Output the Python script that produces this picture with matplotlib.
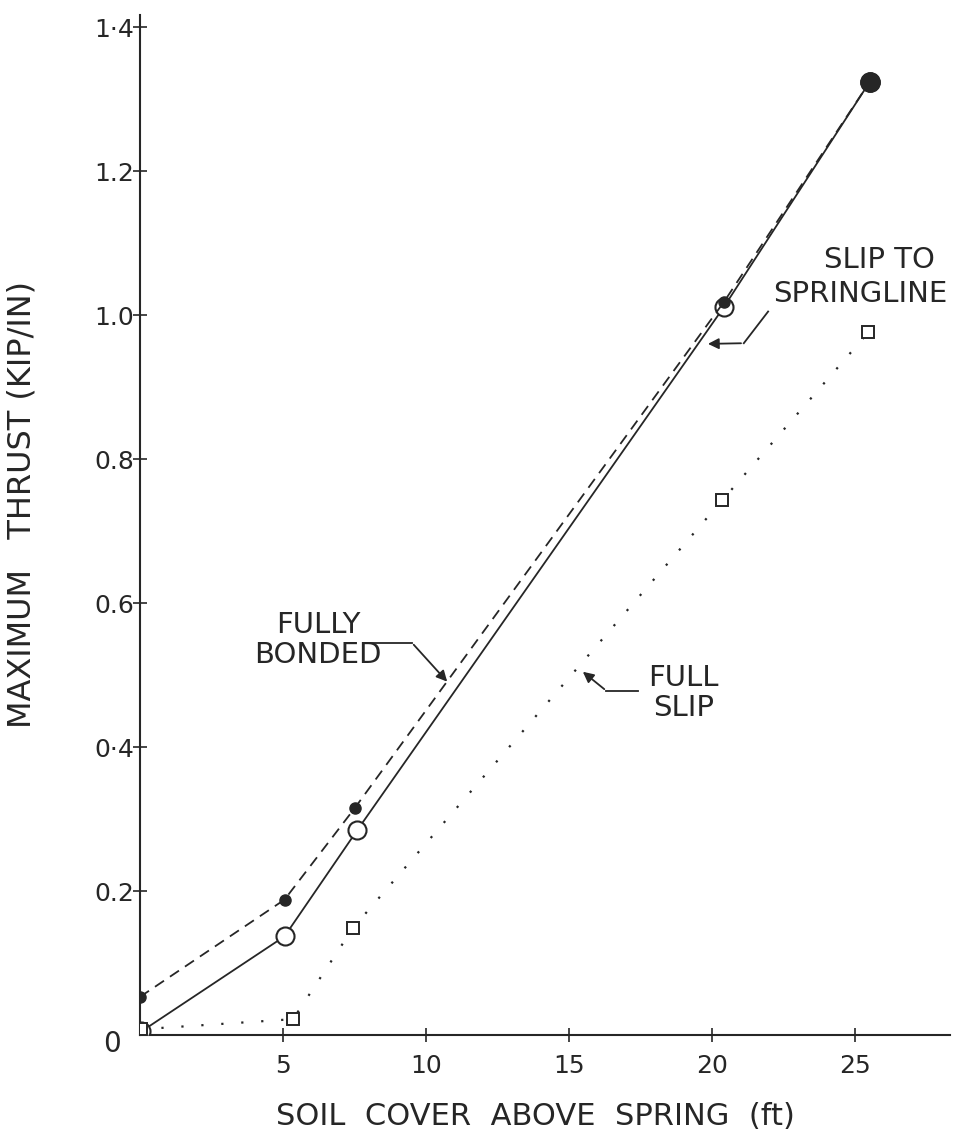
import numpy as np
import matplotlib
matplotlib.use('Agg')
import matplotlib.pyplot as plt

# soil cover (ft) and maximum thrust (kip/in)
bonded_x = [0.0, 5.05, 7.5, 20.4, 25.5]
bonded_y = [0.053, 0.188, 0.315, 1.018, 1.324]

springline_x = [0.05, 5.05, 7.6, 20.4, 25.5]
springline_y = [0.005, 0.137, 0.285, 1.011, 1.324]

fullslip_x = [0.05, 5.35, 7.45, 20.35, 25.45]
fullslip_y = [0.008, 0.022, 0.149, 0.743, 0.976]

x_ticks = [5, 10, 15, 20, 25]
y_ticks = [0.2, 0.4, 0.6, 0.8, 1.0, 1.2, 1.4]
y_ticklabels = ['0.2', '0\u00b74', '0.6', '0.8', '1.0', '1.2', '1\u00b74']

ink = '#262626'
plt.rcParams['font.family'] = ['DejaVu Sans']

fig = plt.figure(figsize=(9.55, 11.41), dpi=100)
ax = fig.add_axes([0.1466, 0.0929, 0.848, 0.894])

ax.plot(bonded_x, bonded_y, color=ink, lw=1.3, linestyle=(0, (6, 4)),
        marker='o', markersize=8, markerfacecolor=ink, markeredgecolor=ink, zorder=4)
ax.plot(springline_x, springline_y, color=ink, lw=1.3, linestyle='-',
        marker='o', markersize=13, markerfacecolor='white', markeredgecolor=ink,
        markeredgewidth=1.5, zorder=3)
ax.plot(fullslip_x, fullslip_y, color=ink, lw=1.6, linestyle=(0, (1, 8)),
        marker='s', markersize=8, markerfacecolor='white', markeredgecolor=ink,
        markeredgewidth=1.4, zorder=3)
# last point drawn as a large filled dot, as in the original
ax.plot(bonded_x[-1:], bonded_y[-1:], 'o', markersize=14, color=ink, zorder=5)

ax.set_xlim(0, 28.3)
ax.set_ylim(0, 1.417)
ax.set_xticks(x_ticks)
ax.set_yticks(y_ticks)
ax.set_yticklabels(y_ticklabels)
for s in ['top', 'right']:
    ax.spines[s].set_visible(False)
for s in ['left', 'bottom']:
    ax.spines[s].set_color(ink)
    ax.spines[s].set_linewidth(1.5)
ax.tick_params(axis='both', direction='inout', length=10, width=1.2, colors=ink,
               labelsize=18, labelcolor=ink)
ax.tick_params(axis='y', pad=-1)
ax.tick_params(axis='x', pad=9)
ax.text(-0.98, -0.012, '0', fontsize=20, color=ink, ha='center', va='center',
        clip_on=False)

ax.set_xlabel('SOIL  COVER  ABOVE  SPRING  (ft)', fontsize=22, color=ink)
ax.xaxis.set_label_coords(0.488, -0.066)
ax.set_ylabel('MAXIMUM   THRUST (KIP/IN)', fontsize=23, color=ink)
ax.yaxis.set_label_coords(-0.126, 0.52)

txt = dict(fontsize=21, color=ink, ha='center', va='center', linespacing=1.1)
ax.text(25.84, 1.076, 'SLIP TO', **txt)
ax.text(25.17, 1.029, 'SPRINGLINE', **txt)
ax.text(6.22, 0.549, 'FULLY\nBONDED', **txt)
ax.text(18.99, 0.475, 'FULL\nSLIP', **txt)

arrow = dict(arrowstyle='-|>', color=ink, lw=1.3, mutation_scale=16)
ax.annotate('', xy=(19.75, 0.96), xytext=(21.1, 0.961), arrowprops=arrow)
ax.plot([21.1, 21.95], [0.961, 1.005], color=ink, lw=1.3)
ax.annotate('', xy=(10.8, 0.488), xytext=(9.5, 0.545), arrowprops=arrow)
ax.plot([8.0, 9.5], [0.545, 0.545], color=ink, lw=1.3)
ax.annotate('', xy=(15.4, 0.507), xytext=(16.3, 0.478), arrowprops=arrow)
ax.plot([16.3, 17.4], [0.478, 0.478], color=ink, lw=1.3)

fig.savefig('out.png', dpi=100, facecolor='white')
